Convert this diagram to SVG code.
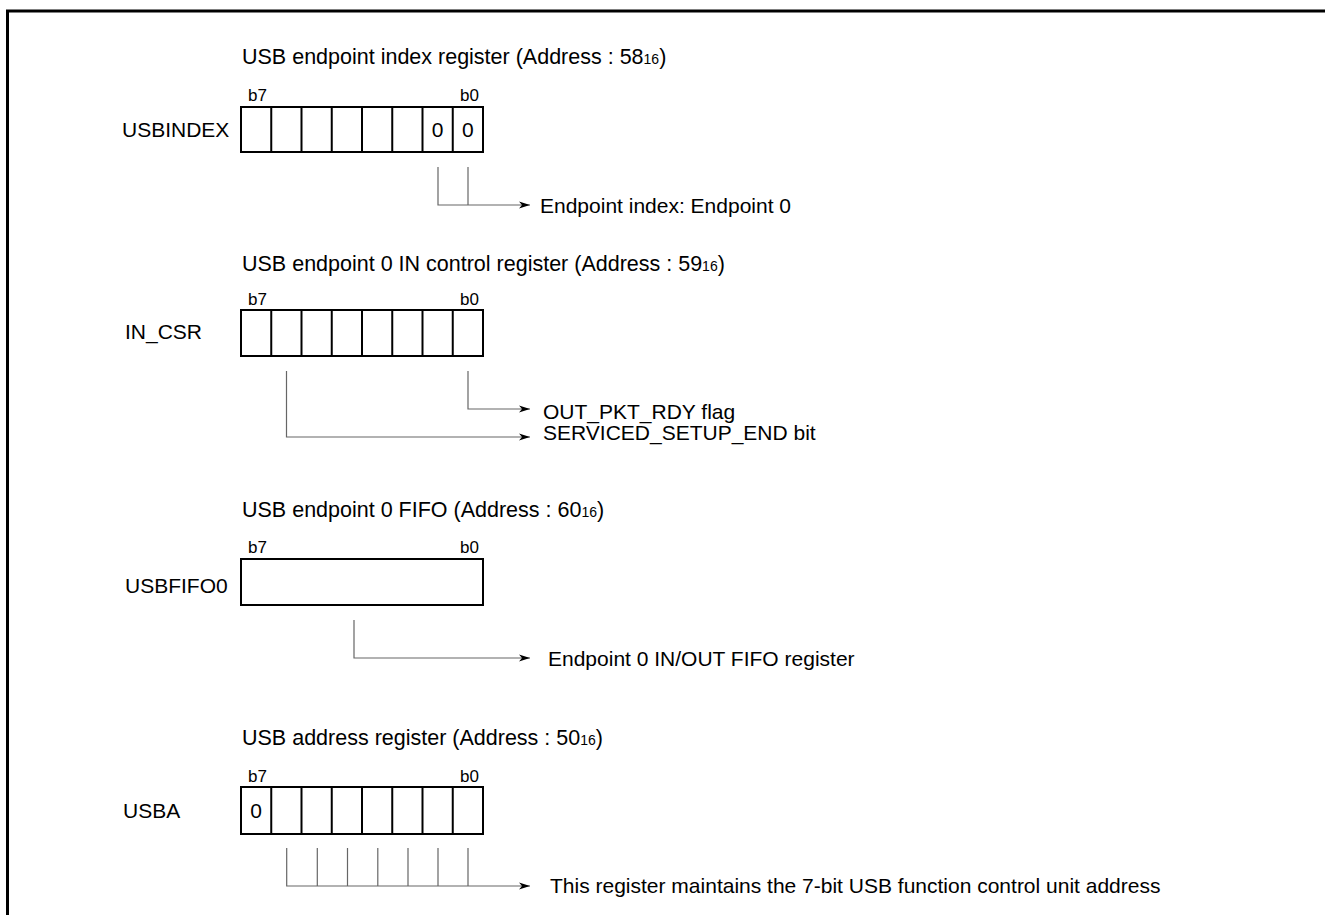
<svg xmlns="http://www.w3.org/2000/svg" width="1325" height="915" viewBox="0 0 1325 915">
<style>
text{font-family:"Liberation Sans",Arial,sans-serif;fill:#000}
.t{font-size:21.5px}
.l{font-size:21px}
.b{font-size:17px}
.s{font-size:14px}
.box{fill:#fff;stroke:#000;stroke-width:2}
.div{stroke:#000;stroke-width:2}
.c{fill:none;stroke:#666;stroke-width:1.2}
</style>
<defs>
<marker id="ah" markerUnits="userSpaceOnUse" markerWidth="12" markerHeight="8" refX="11" refY="4" orient="auto">
<path d="M0,0.5 L11,4 L0,7.5 L3,4 Z" fill="#000"/>
</marker>
</defs>
<rect width="1325" height="915" fill="#fff"/>
<path d="M7.5,915 V11 H1325" fill="none" stroke="#000" stroke-width="3"/>

<g id="usbindex">
<text class="t" x="242" y="64">USB endpoint index register (Address : 58<tspan class="s">16</tspan>)</text>
<text class="b" x="248" y="101">b7</text>
<text class="b" x="460" y="101">b0</text>
<text class="l" x="122" y="137">USBINDEX</text>
<rect class="box" x="241" y="107" width="242" height="45"/>
<path class="div" d="M271.25,107V152M301.5,107V152M331.75,107V152M362,107V152M392.25,107V152M422.5,107V152M452.75,107V152"/>
<text class="l" x="437.6" y="137" text-anchor="middle">0</text>
<text class="l" x="467.9" y="137" text-anchor="middle">0</text>
<text class="l" x="540" y="213">Endpoint index: Endpoint 0</text>
</g>

<g id="in_csr">
<text class="t" x="242" y="271">USB endpoint 0 IN control register (Address : 59<tspan class="s">16</tspan>)</text>
<text class="b" x="248" y="305">b7</text>
<text class="b" x="460" y="305">b0</text>
<text class="l" x="125" y="339">IN_CSR</text>
<rect class="box" x="241" y="310" width="242" height="46"/>
<path class="div" d="M271.25,310V356M301.5,310V356M331.75,310V356M362,310V356M392.25,310V356M422.5,310V356M452.75,310V356"/>
<text class="l" x="543" y="419">OUT_PKT_RDY flag</text>
<text class="l" x="543" y="440">SERVICED_SETUP_END bit</text>
</g>

<g id="usbfifo0">
<text class="t" x="242" y="517">USB endpoint 0 FIFO (Address : 60<tspan class="s">16</tspan>)</text>
<text class="b" x="248" y="553">b7</text>
<text class="b" x="460" y="553">b0</text>
<text class="l" x="125" y="593">USBFIFO0</text>
<rect class="box" x="241" y="559" width="242" height="46"/>
<text class="l" x="548" y="666">Endpoint 0 IN/OUT FIFO register</text>
</g>

<g id="usba">
<text class="t" x="242" y="745">USB address register (Address : 50<tspan class="s">16</tspan>)</text>
<text class="b" x="248" y="782">b7</text>
<text class="b" x="460" y="782">b0</text>
<text class="l" x="123" y="818">USBA</text>
<rect class="box" x="241" y="787" width="242" height="47"/>
<path class="div" d="M271.25,787V834M301.5,787V834M331.75,787V834M362,787V834M392.25,787V834M422.5,787V834M452.75,787V834"/>
<text class="l" x="256" y="818" text-anchor="middle">0</text>
<text class="l" x="550" y="893">This register maintains the 7-bit USB function control unit address</text>
</g>

<g id="connectors">
<path class="c" d="M468,167V205"/>
<path class="c" d="M438,167V205H530" marker-end="url(#ah)"/>
<path class="c" d="M468,371V409H530" marker-end="url(#ah)"/>
<path class="c" d="M286.5,371V437H530" marker-end="url(#ah)"/>
<path class="c" d="M354,620V658H530" marker-end="url(#ah)"/>
<path class="c" d="M317.3,848V886M347.5,848V886M377.8,848V886M408,848V886M438,848V886M468,848V886"/>
<path class="c" d="M286.7,848V886H530" marker-end="url(#ah)"/>
</g>
</svg>
